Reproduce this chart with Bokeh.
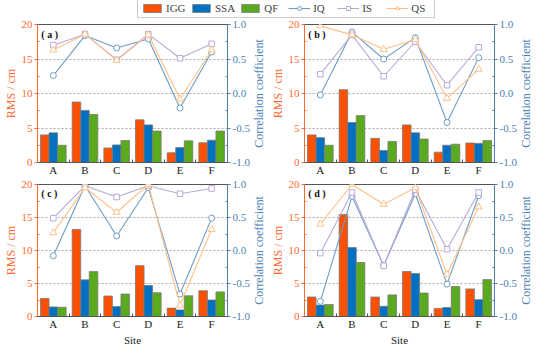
import math
from bokeh.plotting import figure
from bokeh.models import (Range1d, LinearAxis, FixedTicker, Label, Legend, LegendItem,
                          PrintfTickFormatter)
from bokeh.layouts import column, row
from bokeh.embed import file_html
from bokeh.resources import INLINE

sites = ["A", "B", "C", "D", "E", "F"]

# RMS (cm) bars
igg = {"a": [4.0, 8.77, 2.1, 6.18, 1.41, 2.86],
       "b": [4.0, 10.55, 3.5, 5.45, 1.5, 2.82],
       "c": [2.73, 13.2, 3.1, 7.7, 1.27, 3.9],
       "d": [2.95, 15.45, 2.95, 6.82, 1.23, 4.18]}
ssa = {"a": [4.3, 7.55, 2.55, 5.45, 2.18, 3.23],
       "b": [3.6, 5.8, 1.73, 4.3, 2.5, 2.77],
       "c": [1.45, 5.55, 1.5, 4.7, 1.0, 2.5],
       "d": [1.73, 10.45, 1.55, 6.5, 1.36, 2.55]}
qf = {"a": [2.5, 6.95, 3.18, 4.55, 3.14, 4.55],
      "b": [2.5, 6.8, 3.05, 3.4, 2.65, 3.18],
      "c": [1.4, 6.8, 3.4, 3.6, 3.14, 3.73],
      "d": [1.82, 8.18, 3.27, 3.55, 4.55, 5.6]}
# correlation coefficients
iq = {"a": [0.26, 0.84, 0.66, 0.79, -0.21, 0.60],
      "b": [-0.02, 0.89, 0.50, 0.81, -0.42, 0.52],
      "c": [-0.08, 0.98, 0.22, 0.95, -0.66, 0.49],
      "d": [-0.77, 0.82, -0.23, 0.86, -0.51, 0.83]}
is_ = {"a": [0.70, 0.86, 0.49, 0.86, 0.51, 0.72],
       "b": [0.28, 0.85, 0.25, 0.75, 0.12, 0.67],
       "c": [0.49, 0.98, 0.81, 0.98, 0.86, 0.94],
       "d": [-0.04, 0.88, -0.23, 0.92, 0.02, 0.88]}
qs = {"a": [0.63, 0.86, 0.48, 0.85, -0.08, 0.63],
      "b": [0.98, 0.85, 0.64, 0.78, -0.07, 0.35],
      "c": [0.27, 0.95, 0.58, 1.0, -0.83, 0.32],
      "d": [0.40, 1.0, 0.70, 0.95, -0.36, 0.66]}

rms_ticks = [0, 5, 10, 15, 20]
corr_ticks = [-1.0, -0.5, 0.0, 0.5, 1.0]

C_IGG = "#FF5000"
C_SSA = "#0070C0"
C_QF = "#5AAA1E"
C_IQ = "#6E9CC4"
C_IS = "#B8A8D8"
C_QS = "#FFC088"
C_LEFT = "#FF6A30"
C_RIGHT = "#4A82B4"
C_AX = "#555555"
FONT = "'Liberation Serif', 'Times New Roman', serif"

xs = list(range(1, len(sites) + 1))
BW = 0.27
LBL_W = 15


def make_panel(name, show_site, height, bottom_border):
    p = figure(width=267 - LBL_W, height=height, toolbar_location=None, output_backend="svg",
               x_range=Range1d(0.5, 6.5), y_range=Range1d(0, 20),
               min_border_left=20, min_border_right=4, min_border_top=6,
               min_border_bottom=bottom_border)
    p.extra_y_ranges = {"corr": Range1d(-1, 1)}
    p.outline_line_color = C_AX
    p.outline_line_width = 1
    p.xgrid.visible = False
    p.ygrid.ticker = FixedTicker(ticks=[5, 10, 15])
    p.ygrid.grid_line_color = "#A8A8A8"
    p.ygrid.grid_line_dash = "2 2"
    p.ygrid.grid_line_width = 1

    # bottom axis
    xa = p.xaxis[0]
    xa.ticker = FixedTicker(ticks=xs, minor_ticks=[1.5, 2.5, 3.5, 4.5, 5.5])
    xa.major_label_overrides = {x: s for x, s in zip(xs, sites)}
    xa.major_tick_in = 0
    xa.major_tick_out = 0
    xa.minor_tick_in = 3
    xa.minor_tick_out = 0
    xa.axis_line_color = C_AX
    xa.minor_tick_line_color = C_AX
    xa.major_label_text_font = FONT
    xa.major_label_text_font_size = "11px"
    xa.major_label_text_color = "#222222"
    xa.major_label_standoff = 1
    if show_site:
        xa.axis_label = "Site"
        xa.axis_label_text_font = FONT
        xa.axis_label_text_font_size = "11px"
        xa.axis_label_text_font_style = "normal"
        xa.axis_label_text_color = "#222222"
        xa.axis_label_standoff = 1

    # left axis
    ya = p.yaxis[0]
    ya.ticker = FixedTicker(ticks=rms_ticks, minor_ticks=[2.5, 7.5, 12.5, 17.5])
    ya.axis_label = "RMS / cm"
    ya.axis_label_text_font = FONT
    ya.axis_label_text_font_size = "12px"
    ya.axis_label_text_font_style = "normal"
    ya.axis_label_text_color = C_LEFT
    ya.axis_label_standoff = 1
    ya.major_label_text_font = FONT
    ya.major_label_text_font_size = "11px"
    ya.major_label_text_color = C_LEFT
    ya.major_label_standoff = 2
    ya.axis_line_color = C_LEFT
    ya.major_tick_line_color = C_LEFT
    ya.minor_tick_line_color = C_LEFT
    ya.major_tick_out = 3
    ya.major_tick_in = 0
    ya.minor_tick_in = 2
    ya.minor_tick_out = 0

    # right axis
    ra = LinearAxis(y_range_name="corr",
                    ticker=FixedTicker(ticks=corr_ticks, minor_ticks=[-0.75, -0.25, 0.25, 0.75]),
                    formatter=PrintfTickFormatter(format="%.1f"))
    ra.major_label_text_font = FONT
    ra.major_label_text_font_size = "11px"
    ra.major_label_text_color = C_RIGHT
    ra.major_label_standoff = 2
    ra.axis_line_color = C_RIGHT
    ra.major_tick_line_color = C_RIGHT
    ra.minor_tick_line_color = C_RIGHT
    ra.major_tick_out = 3
    ra.major_tick_in = 0
    ra.minor_tick_in = 2
    ra.minor_tick_out = 0
    p.add_layout(ra, "right")

    # bars
    for vals, off, col in ((igg[name], -BW, C_IGG), (ssa[name], 0.0, C_SSA), (qf[name], BW, C_QF)):
        p.vbar(x=[x + off for x in xs], top=vals, width=BW, bottom=0,
               fill_color=col, line_color="#7A7A7A", line_width=0.8)

    # lines
    for vals, col, mk, sz in ((iq[name], C_IQ, "circle", 6), (is_[name], C_IS, "square", 5.5),
                              (qs[name], C_QS, "triangle", 7)):
        p.line(xs, vals, y_range_name="corr", line_color=col, line_width=1.1)
        p.scatter(xs, vals, y_range_name="corr", marker=mk, size=sz,
                  fill_color="white", line_color=col, line_width=1)

    p.add_layout(Label(x=0.62, y=19.4, text="( %s )" % name, text_font=FONT,
                       text_font_size="10px", text_font_style="bold",
                       text_baseline="top", text_align="left", text_color="#111111",
                       background_fill_color="white"))
    return p


def right_title(height, bottom_border):
    # narrow strip holding the right-hand axis title, reading bottom to top
    f = figure(width=LBL_W, height=height, toolbar_location=None, output_backend="svg",
               x_range=Range1d(0, 1), y_range=Range1d(0, 1), x_axis_type=None, y_axis_type=None,
               min_border_left=0, min_border_right=0, min_border_top=6,
               min_border_bottom=bottom_border)
    f.outline_line_color = None
    f.grid.visible = False
    f.add_layout(Label(x=0.45, y=0.5, text="Correlation coefficient", angle=math.pi / 2,
                       text_font=FONT, text_font_size="12px", text_color=C_RIGHT,
                       text_align="center", text_baseline="middle"))
    return f


pa = make_panel("a", False, 160, 14)
pb = make_panel("b", False, 160, 14)
pc = make_panel("c", True, 170, 24)
pd_ = make_panel("d", True, 170, 24)

# legend strip (legend swatches only; their sample renderers lie outside the visible range)
lp = figure(width=534, height=18, toolbar_location=None, output_backend="svg",
            x_range=Range1d(0, 1), y_range=Range1d(0, 1), x_axis_type=None, y_axis_type=None,
            min_border=0)
lp.outline_line_color = None
lp.grid.visible = False
items = []
for lab, col in (("IGG", C_IGG), ("SSA", C_SSA), ("QF", C_QF)):
    r = lp.vbar(x=[-5], top=[-5], bottom=[-6], width=0.1, fill_color=col,
                line_color="#7A7A7A", line_width=0.8)
    items.append(LegendItem(label=lab, renderers=[r]))
for lab, col, mk, sz in (("IQ", C_IQ, "circle", 6), ("IS", C_IS, "square", 5.5), ("QS", C_QS, "triangle", 7)):
    rl = lp.line(x=[-5, -4], y=[-5, -5], line_color=col, line_width=1.1)
    rs = lp.scatter(x=[-5], y=[-5], marker=mk, size=sz, fill_color="white", line_color=col)
    items.append(LegendItem(label=lab, renderers=[rl, rs]))
leg = Legend(items=items, orientation="horizontal", location=(137, 0),
             label_text_font=FONT, label_text_font_size="11px", label_height=10,
             glyph_width=22, glyph_height=10, padding=3, spacing=4, label_standoff=3,
             margin=0, border_line_color="#9A9A9A", background_fill_color="white")
lp.add_layout(leg, "center")

layout = column(lp,
                row(pa, right_title(160, 14), pb, right_title(160, 14)),
                row(pc, right_title(170, 24), pd_, right_title(170, 24)))
open("out.html", "w").write(file_html(layout, INLINE))
